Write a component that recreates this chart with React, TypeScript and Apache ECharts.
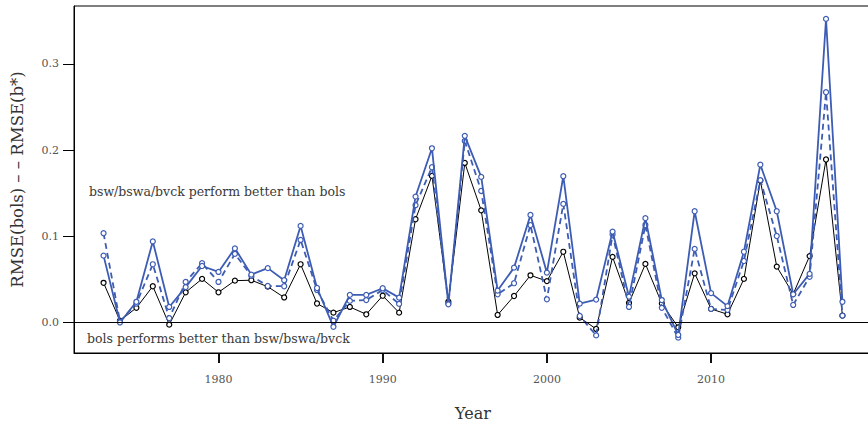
import React, { useEffect, useRef } from "react";
import * as echarts from "echarts";

const years = [
  1973, 1974, 1975, 1976, 1977, 1978, 1979, 1980, 1981, 1982, 1983, 1984, 1985, 1986, 1987,
  1988, 1989, 1990, 1991, 1992, 1993, 1994, 1995, 1996, 1997, 1998, 1999, 2000, 2001, 2002,
  2003, 2004, 2005, 2006, 2007, 2008, 2009, 2010, 2011, 2012, 2013, 2014, 2015, 2016, 2017, 2018,
];

// black solid line
const blackValues = [
  0.046, 0.002, 0.017, 0.042, -0.0025, 0.035, 0.0505, 0.035, 0.0485, 0.049, 0.0415, 0.029, 0.0675, 0.022, 0.0114,
  0.018, 0.0095, 0.031, 0.0114, 0.1197, 0.17, 0.024, 0.185, 0.13, 0.0087, 0.0307, 0.0547, 0.048, 0.082, 0.0056,
  -0.0075, 0.076, 0.0226, 0.0679, 0.022, -0.0056, 0.057, 0.0157, 0.0095, 0.0505, 0.1645, 0.0648, 0.033, 0.077, 0.189, 0.0079,
];

// blue solid line
const blueSolidValues = [
  0.0775, 0.0, 0.024, 0.094, 0.018, 0.041, 0.0655, 0.0586, 0.086, 0.0555, 0.063, 0.049, 0.112, 0.04, -0.005,
  0.032, 0.032, 0.0397, 0.0288, 0.146, 0.202, 0.021, 0.2164, 0.1688, 0.037, 0.0636, 0.1247, 0.0578, 0.1696, 0.0218,
  0.0265, 0.1054, 0.03, 0.121, 0.026, -0.0145, 0.129, 0.034, 0.019, 0.082, 0.183, 0.129, 0.0327, 0.0563, 0.352, 0.024,
];

// blue dashed line
const blueDashedValues = [
  0.1035, 0.001, 0.022, 0.0675, 0.005, 0.047, 0.0687, 0.047, 0.0795, 0.054, 0.0423, 0.042, 0.0957, 0.0377, 0.002,
  0.025, 0.026, 0.0377, 0.0215, 0.136, 0.18, 0.022, 0.2105, 0.1525, 0.0327, 0.0455, 0.113, 0.0269, 0.1375, 0.0075,
  -0.015, 0.102, 0.018, 0.113, 0.017, -0.0176, 0.0853, 0.0157, 0.0145, 0.0713, 0.165, 0.1003, 0.0203, 0.053, 0.267, 0.008,
];

const xTicks = [1980, 1990, 2000, 2010];
const yTicks = [0, 0.1, 0.2, 0.3];

const upperNote = "bsw/bswa/bvck perform better than bols";
const lowerNote = "bols performs better than bsw/bswa/bvck";

const BLUE = "#3D5CB3";
const FONT = "DejaVu Serif";
const X_MIN = 1971.2;
const X_MAX = 2019.8;

export default function App() {
  const ref = useRef<HTMLDivElement>(null);

  useEffect(() => {
    if (!ref.current) return;
    const chart = echarts.init(ref.current, undefined, { renderer: "svg" });
    const pairs = (vals: number[]) => years.map((y, i) => [y, vals[i]]);

    chart.setOption({
      animation: false,
      backgroundColor: "#ffffff",
      textStyle: { fontFamily: FONT },
      grid: {
        left: 74,
        right: 8,
        top: 6,
        bottom: 73,
        show: true,
        borderColor: "#000",
        borderWidth: 1,
        backgroundColor: "transparent",
      },
      xAxis: [
        {
          type: "value",
          position: "bottom",
          min: X_MIN,
          max: X_MAX,
          name: "Year",
          nameLocation: "middle",
          nameGap: 52,
          nameTextStyle: { fontFamily: FONT, fontSize: 16, color: "#333" },
          axisLine: { show: true, onZero: false, lineStyle: { color: "#000", width: 1 } },
          splitLine: { show: false },
          axisTick: { show: true, inside: false, length: 10, lineStyle: { color: "#000", width: 1.5 }, customValues: xTicks },
          axisLabel: {
            customValues: xTicks,
            margin: 21,
            fontFamily: FONT,
            fontSize: 11,
            color: "#555",
            formatter: (v: number) => String(v),
          },
          z: 20,
        },
        {
          type: "value",
          position: "bottom",
          offset: 0,
          min: X_MIN,
          max: X_MAX,
          axisLine: { show: false, onZero: false },
          splitLine: { show: false },
          axisLabel: { show: false, customValues: xTicks },
          axisTick: { show: true, inside: false, length: 10, lineStyle: { color: "#000", width: 1.5 }, customValues: xTicks },
          z: 20,
        },
      ],
      yAxis: {
        type: "value",
        position: "left",
        min: -0.0354,
        max: 0.367,
        name: "RMSE(bols) – – RMSE(b*)",
        nameLocation: "middle",
        nameGap: 48,
        nameRotate: 90,
        nameTextStyle: { fontFamily: FONT, fontSize: 16.5, color: "#333" },
        axisLine: { show: true, onZero: false, lineStyle: { color: "#000", width: 1 } },
        splitLine: { show: false },
        axisTick: { show: true, inside: false, length: 11, lineStyle: { color: "#000", width: 1 }, customValues: yTicks },
        axisLabel: {
          customValues: yTicks,
          margin: 15,
          fontFamily: FONT,
          fontSize: 11,
          color: "#555",
          formatter: (v: number) => v.toFixed(1),
        },
      },
      graphic: [
        {
          type: "text",
          left: 89,
          top: 185,
          style: { text: upperNote, fontFamily: FONT, fontSize: 12.5, fill: "#3a3a3a" },
        },
        {
          type: "text",
          left: 87,
          top: 332,
          style: { text: lowerNote, fontFamily: FONT, fontSize: 12.5, fill: "#3a3a3a" },
        },
      ],
      series: [
        {
          type: "line",
          data: pairs(blackValues),
          symbol: "circle",
          symbolSize: 5,
          lineStyle: { color: "#000", width: 1 },
          itemStyle: { color: "#fff", borderColor: "#000", borderWidth: 1.2 },
          markLine: {
            silent: true,
            symbol: "none",
            label: { show: false },
            lineStyle: { color: "#000", width: 1.2, type: "solid" },
            data: [{ yAxis: 0 }],
          },
          z: 2,
        },
        {
          type: "line",
          data: pairs(blueDashedValues),
          symbol: "circle",
          symbolSize: 5,
          lineStyle: { color: BLUE, width: 1.8, type: [6, 4] },
          itemStyle: { color: "#fff", borderColor: BLUE, borderWidth: 1.2 },
          z: 3,
        },
        {
          type: "line",
          data: pairs(blueSolidValues),
          symbol: "circle",
          symbolSize: 5,
          lineStyle: { color: BLUE, width: 1.8 },
          itemStyle: { color: "#fff", borderColor: BLUE, borderWidth: 1.2 },
          z: 4,
        },
      ],
    });

    return () => chart.dispose();
  }, []);

  return (
    <div style={{ position: "fixed", left: 0, top: 0, width: 868, height: 426, overflow: "hidden", background: "#fff" }}>
      <div ref={ref} style={{ width: 880, height: 426 }} />
    </div>
  );
}
